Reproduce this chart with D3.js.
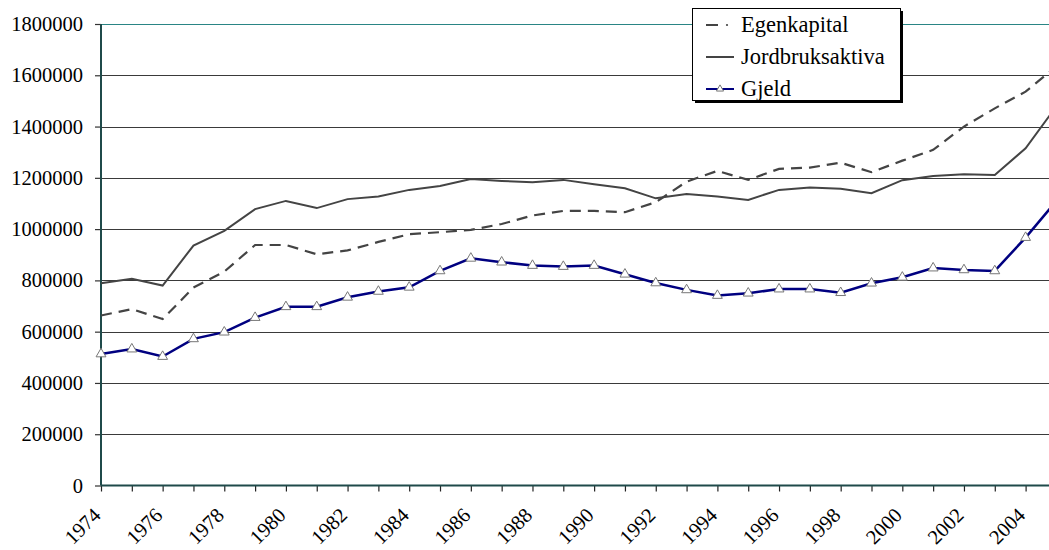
<!DOCTYPE html>
<html>
<head>
<meta charset="utf-8">
<script src="https://cdn.jsdelivr.net/npm/d3@7"></script>
<style>
  body { margin: 0; background: #fff; }
  svg { display: block; }
</style>
</head>
<body>
<div id="chart"></div>
<script>
// Years and series
const years = d3.range(1974, 2006);
const egenkapital = [663000, 688000, 649000, 772000, 834000, 938000, 938000, 902000, 917000, 950000,
  980000, 988000, 997000, 1020000, 1053000, 1071000, 1071000, 1066000, 1105000, 1185000,
  1227000, 1192000, 1235000, 1240000, 1259000, 1222000, 1267000, 1309000, 1400000, 1471000,
  1536000, 1635000];
const jordbruksaktiva = [789000, 806000, 780000, 936000, 993000, 1078000, 1110000, 1082000, 1117000, 1127000,
  1153000, 1168000, 1195000, 1188000, 1183000, 1192000, 1175000, 1159000, 1120000, 1137000,
  1127000, 1114000, 1153000, 1162000, 1157000, 1140000, 1191000, 1207000, 1214000, 1211000,
  1315000, 1479000];
const gjeld = [513000, 532000, 503000, 572000, 598000, 655000, 697000, 697000, 734000, 757000,
  773000, 837000, 886000, 871000, 858000, 854000, 858000, 824000, 790000, 763000,
  741000, 750000, 766000, 766000, 752000, 789000, 812000, 848000, 841000, 837000,
  967000, 1110000];
const yTicks = d3.range(0, 1800001, 200000);
const legendNames = ["Egenkapital", "Jordbruksaktiva", "Gjeld"];

const width = 1049, height = 550;
const x0 = 101, yBottom = 485.5, yTop = 24;
const FONT = "Liberation Serif";

const svg = d3.select("#chart").append("svg")
  .attr("width", width)
  .attr("height", height);

const x = d3.scalePoint()
  .domain(years)
  .range([x0, x0 + 31 * 30.82]);

const y = d3.scaleLinear()
  .domain([0, 1800000])
  .range([yBottom, yTop]);

// serif font on each text
function serif(sel, size) {
  sel.attr("font-family", FONT)
    .attr("font-size", size)
    .style("font-family", "'Liberation Serif', serif", "important")
    .style("font-size", size + "px", "important");
}

// Gridlines
svg.append("g")
  .selectAll("line")
  .data(yTicks.filter(d => d > 0))
  .join("line")
    .attr("x1", x0)
    .attr("x2", width)
    .attr("y1", d => Math.round(y(d)) + 0.5)
    .attr("y2", d => Math.round(y(d)) + 0.5)
    .attr("stroke", d => d === 1800000 ? "#2a8585" : "#3a3a3a")
    .attr("stroke-width", 1.2);

// Y axis (tick marks from d3, labels as texts)
const yAxis = svg.append("g")
  .attr("transform", `translate(${x0},0)`)
  .call(d3.axisLeft(y).tickValues(yTicks).tickSize(6).tickFormat(""));
yAxis.select(".domain").remove();
yAxis.selectAll(".tick line").attr("stroke", "#333").attr("stroke-width", 1.2);

svg.selectAll("text.ylab")
  .data(yTicks)
  .join("text")
    .attr("class", "ylab")
    .attr("x", x0 - 18)
    .attr("y", d => y(d) + 7)
    .attr("text-anchor", "end")
    .attr("fill", "#000")
    .text(d => d)
    .call(serif, 20.5);

// X axis
const xAxis = svg.append("g")
  .attr("transform", `translate(0,${yBottom})`)
  .call(d3.axisBottom(x).tickSize(6).tickFormat(""));
xAxis.select(".domain").remove();
xAxis.selectAll(".tick line").attr("stroke", "#222").attr("stroke-width", 1.2);

svg.selectAll("text.xlab")
  .data(years.filter(d => d % 2 === 0))
  .join("text")
    .attr("class", "xlab")
    .attr("text-anchor", "end")
    .attr("fill", "#000")
    .attr("transform", d => `translate(${x(d) + 1},${yBottom + 31}) rotate(-45)`)
    .text(d => d)
    .call(serif, 20.5);

// Axis lines
svg.append("line")
  .attr("x1", x0).attr("x2", width)
  .attr("y1", yBottom).attr("y2", yBottom)
  .attr("stroke", "#1f4a4a").attr("stroke-width", 2);
svg.append("line")
  .attr("x1", x0).attr("x2", x0)
  .attr("y1", yTop).attr("y2", yBottom)
  .attr("stroke", "#1f4a4a").attr("stroke-width", 2);

// Lines
const line = d3.line()
  .x((d, i) => x(years[i]))
  .y(d => y(d));

svg.append("path")
  .datum(jordbruksaktiva)
  .attr("fill", "none")
  .attr("stroke", "#444")
  .attr("stroke-width", 2)
  .attr("d", line);

svg.append("path")
  .datum(egenkapital)
  .attr("fill", "none")
  .attr("stroke", "#444")
  .attr("stroke-width", 2.2)
  .attr("stroke-dasharray", "11,7")
  .attr("d", line);

svg.append("path")
  .datum(gjeld)
  .attr("fill", "none")
  .attr("stroke", "#000080")
  .attr("stroke-width", 2.5)
  .attr("d", line);

const tri = d3.symbol().type(d3.symbolTriangle).size(42);
svg.append("g")
  .selectAll("path")
  .data(gjeld)
  .join("path")
    .attr("transform", (d, i) => `translate(${x(years[i])},${y(d)})`)
    .attr("d", tri)
    .attr("fill", "#fff")
    .attr("stroke", "#777")
    .attr("stroke-width", 1);

// Legend
const lx = 692, ly = 8;
svg.append("rect")
  .attr("x", lx + 3).attr("y", ly + 3).attr("width", 208).attr("height", 92)
  .attr("fill", "#000");
svg.append("rect")
  .attr("x", lx + 0.5).attr("y", ly + 0.5).attr("width", 208).attr("height", 92)
  .attr("fill", "#fff").attr("stroke", "#000").attr("stroke-width", 1);

const legendColors = ["#444", "#444", "#000080"];
legendNames.forEach((name, i) => {
  const cy = ly + 17 + i * 32;
  const l = svg.append("line")
    .attr("x1", lx + 14).attr("x2", lx + 42)
    .attr("y1", cy).attr("y2", cy)
    .attr("stroke", legendColors[i]).attr("stroke-width", 2);
  if (i === 0) {
    l.attr("x2", lx + 26);
    svg.append("circle").attr("cx", lx + 35).attr("cy", cy).attr("r", 1.1).attr("fill", legendColors[i]);
  }
  if (i === 2) {
    svg.append("path")
      .attr("transform", `translate(${lx + 28},${cy})`)
      .attr("d", d3.symbol().type(d3.symbolTriangle).size(22))
      .attr("fill", "#fff").attr("stroke", "#777");
  }
  svg.append("text")
    .attr("x", lx + 49)
    .attr("y", cy + 7)
    .attr("fill", "#000")
    .text(name)
    .call(serif, 22.5);
});
</script>
</body>
</html>
